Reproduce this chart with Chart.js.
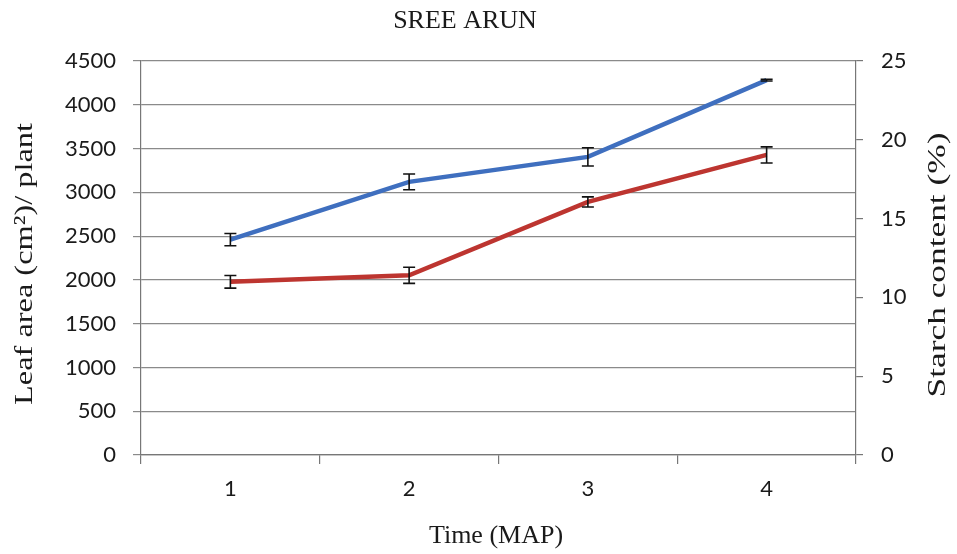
<!DOCTYPE html>
<html>
<head>
<meta charset="utf-8">
<script src="https://cdn.jsdelivr.net/npm/chart.js@4.4.1/dist/chart.umd.min.js"></script>
<style>
  html, body { margin: 0; padding: 0; background: #ffffff; }
  #wrap { width: 957px; height: 554px; }
</style>
</head>
<body>
<div id="wrap"><canvas id="c" width="957" height="554"></canvas></div>
<script>
// ---- data ----
const chartTitle = "SREE ARUN";
const xTitle = "Time (MAP)";
const leftTitle = "Leaf area (cm²)/ plant";
const rightTitle = "Starch content (%)";
const categories = ["1", "2", "3", "4"];
const leafArea = [2460, 3120, 3405, 4281];
const leafAreaErr = [70, 90, 105, 10];
const starch = [10.99, 11.40, 16.06, 19.04];
const starchErr = [0.40, 0.51, 0.32, 0.51];

const errorBarPlugin = {
  id: 'errorBars',
  afterDatasetsDraw(chart) {
    const ctx = chart.ctx;
    const xs = chart.scales.x;
    ctx.save();
    ctx.strokeStyle = '#111';
    ctx.lineWidth = 1.6;
    chart.data.datasets.forEach((ds) => {
      const ys = chart.scales[ds.yAxisID];
      ds.data.forEach((v, i) => {
        const e = ds.errors[i];
        const x = xs.getPixelForValue(i);
        const yTop = ys.getPixelForValue(v + e);
        const yBot = ys.getPixelForValue(v - e);
        const cap = 6;
        ctx.beginPath();
        ctx.moveTo(x, yTop); ctx.lineTo(x, yBot);
        ctx.moveTo(x - cap, yTop); ctx.lineTo(x + cap, yTop);
        ctx.moveTo(x - cap, yBot); ctx.lineTo(x + cap, yBot);
        ctx.stroke();
      });
    });
    ctx.restore();
  }
};

function drawRotated(ctx, text, x, y, len) {
  ctx.save();
  ctx.translate(x, y);
  ctx.rotate(-Math.PI / 2);
  const w = ctx.measureText(text).width;
  ctx.scale(len / w, 1);
  ctx.fillText(text, 0, 0);
  ctx.restore();
}

const textPlugin = {
  id: 'texts',
  afterDraw(chart) {
    const ctx = chart.ctx;
    ctx.save();
    ctx.fillStyle = '#1a1a1a';
    ctx.textAlign = 'center';
    ctx.textBaseline = 'middle';
    ctx.font = '26px "Liberation Serif", "Times New Roman", serif';
    ctx.fillText(chartTitle, 465, 21);
    ctx.fillText(xTitle, 496, 536);
    drawRotated(ctx, leftTitle, 25, 264, 282);
    drawRotated(ctx, rightTitle, 938, 265, 265);
    ctx.restore();
  }
};

const tickFont = { family: 'Lato, "Open Sans", sans-serif', size: 22 };
const plainNumber = (v) => String(v);

new Chart(document.getElementById('c'), {
  type: 'line',
  data: {
    labels: categories,
    datasets: [
      {
        label: 'Leaf area',
        data: leafArea,
        errors: leafAreaErr,
        yAxisID: 'y',
        borderColor: '#3f6fbf',
        borderWidth: 4.5,
        pointRadius: 0,
        tension: 0,
        fill: false
      },
      {
        label: 'Starch content',
        data: starch,
        errors: starchErr,
        yAxisID: 'y1',
        borderColor: '#bd3530',
        borderWidth: 4.5,
        pointRadius: 0,
        tension: 0,
        fill: false
      }
    ]
  },
  options: {
    responsive: false,
    animation: false,
    devicePixelRatio: 1,
    layout: { padding: { top: 61, left: 0, right: 0, bottom: 0 } },
    plugins: {
      legend: { display: false },
      title: { display: false },
      tooltip: { enabled: false }
    },
    scales: {
      x: {
        type: 'category',
        offset: true,
        grid: { offset: true, drawOnChartArea: false, drawTicks: true, tickLength: 9, color: '#777', lineWidth: 1.2 },
        border: { display: true, color: '#777', width: 1.2 },
        ticks: { font: tickFont, color: '#1a1a1a', padding: 12 },
        afterFit(s) { s.height = 99; }
      },
      y: {
        position: 'left',
        min: 0, max: 4500,
        ticks: { stepSize: 500, font: tickFont, color: '#1a1a1a', padding: 17, callback: plainNumber },
        grid: { color: '#8a8a8a', lineWidth: 1.2, tickLength: 8 },
        border: { display: true, color: '#777', width: 1.2 },
        afterFit(s) { s.width = 141; }
      },
      y1: {
        position: 'right',
        min: 0, max: 25,
        ticks: { stepSize: 5, font: tickFont, color: '#1a1a1a', padding: 18, callback: plainNumber },
        grid: { drawOnChartArea: false, color: '#777', lineWidth: 1.2, tickLength: 7 },
        border: { display: true, color: '#777', width: 1.2 },
        afterFit(s) { s.width = 101; }
      }
    }
  },
  plugins: [errorBarPlugin, textPlugin]
});
</script>
</body>
</html>
